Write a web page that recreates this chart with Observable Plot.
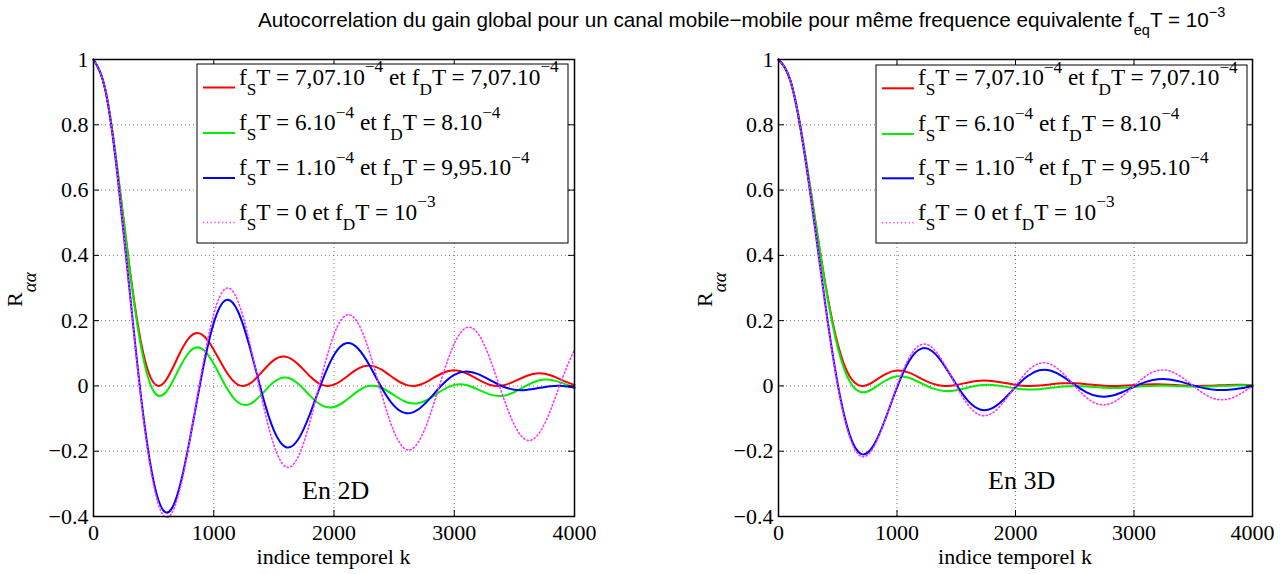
<!DOCTYPE html>
<html><head><meta charset="utf-8">
<script src="https://cdn.jsdelivr.net/npm/d3@7"></script>
<script src="https://cdn.jsdelivr.net/npm/@observablehq/plot@0.6"></script>
<style>
html,body{margin:0;padding:0;background:#fff;}
#wrap{position:relative;width:1285px;height:574px;overflow:hidden;background:#fff;}
#title{position:absolute;left:258px;top:0;height:40px;line-height:40px;font-family:"Liberation Sans",Arial,Helvetica,sans-serif;font-size:20.7px;white-space:nowrap;color:#000;}
#title .sb{font-size:14.5px;position:relative;top:8px;line-height:0;}
#title .sp{font-size:14.5px;position:relative;top:-10px;line-height:0;}
#row{position:absolute;top:40px;left:0;display:flex;}
#row svg{display:block;}
</style></head><body>
<div id="wrap">
<div id="title">Autocorrelation du gain global pour un canal mobile−mobile pour même frequence equivalente f<span class="sb">eq</span>T = 10<span class="sp">−3</span></div>
<div id="row"></div>
</div>
<script>
// time index k
const k = [0,100,200,300,400,500,600,700,800,900,1000,1100,1200,1300,1400,1500,1600,1700,1800,1900,2000,2100,2200,2300,2400,2500,2600,2700,2800,2900,3000,3100,3200,3300,3400,3500,3600,3700,3800,3900,4000];

// ---- En 2D ----
const red2D = [1,0.9049,0.6597,0.3635,0.1250,0.0097,0.0161,0.0870,0.1497,0.1578,0.1112,0.0458,0.0043,0.0070,0.0425,0.0792,0.0893,0.0671,0.0298,0.0034,0.0038,0.0267,0.0527,0.0622,0.0489,0.0230,0.0032,0.0021,0.0186,0.0389,0.0477,0.0389,0.0193,0.0031,0.0012,0.0137,0.0303,0.0386,0.0325,0.0170,0.0032];
const green2D = [1,0.9048,0.6582,0.3577,0.1105,-0.0159,-0.0202,0.0440,0.1051,0.1143,0.0679,-0.0012,-0.0502,-0.0555,-0.0251,0.0118,0.0257,0.0073,-0.0298,-0.0599,-0.0646,-0.0442,-0.0157,0.0003,-0.0063,-0.0285,-0.0491,-0.0529,-0.0373,-0.0133,0.0033,0.0030,-0.0112,-0.0267,-0.0306,-0.0190,0.0010,0.0165,0.0188,0.0085,-0.0048];
const blue2D = [1,0.9038,0.6432,0.2934,-0.0480,-0.2925,-0.3874,-0.3304,-0.1661,0.0331,0.1929,0.2628,0.2295,0.1182,-0.0217,-0.1364,-0.1877,-0.1651,-0.0860,0.0135,0.0947,0.1306,0.1145,0.0598,-0.0077,-0.0613,-0.0837,-0.0722,-0.0372,0.0036,0.0338,0.0445,0.0363,0.0175,-0.0011,-0.0117,-0.0123,-0.0066,-0.0008,-0.0001,-0.0053];
const pink2D = [1,0.9037,0.6425,0.2905,-0.0548,-0.3042,-0.4020,-0.3427,-0.1688,0.0451,0.2203,0.2985,0.2605,0.1303,-0.0383,-0.1812,-0.2479,-0.2187,-0.1100,0.0336,0.1575,0.2166,0.1920,0.0978,-0.0304,-0.1412,-0.1947,-0.1732,-0.0876,0.0280,0.1291,0.1784,0.1590,0.0805,-0.0260,-0.1196,-0.1655,-0.1478,-0.0749,0.0244,0.1120];

// ---- En 3D ----
const red3D = [1,0.9361,0.7630,0.5318,0.3035,0.1283,0.0296,0.0001,0.0127,0.0357,0.0471,0.0406,0.0234,0.0071,0.0001,0.0031,0.0107,0.0160,0.0153,0.0097,0.0034,0.0001,0.0012,0.0049,0.0079,0.0080,0.0054,0.0020,0.0001,0.0006,0.0027,0.0046,0.0049,0.0035,0.0014,0.0001,0.0003,0.0016,0.0030,0.0033,0.0025];
const green3D = [1,0.9359,0.7625,0.5295,0.2979,0.1180,0.0142,-0.0191,-0.0080,0.0159,0.0295,0.0252,0.0090,-0.0076,-0.0156,-0.0131,-0.0050,0.0018,0.0029,-0.0014,-0.0074,-0.0108,-0.0099,-0.0058,-0.0016,0,-0.0014,-0.0042,-0.0061,-0.0057,-0.0033,-0.0005,0.0009,0.0005,-0.0011,-0.0024,-0.0024,-0.0009,0.0009,0.0020,0.0018];
const blue3D = [1,0.9355,0.7571,0.5056,0.2366,0.0050,-0.1490,-0.2088,-0.1837,-0.1028,-0.0047,0.0750,0.1136,0.1057,0.0623,0.0043,-0.0459,-0.0720,-0.0688,-0.0416,-0.0038,0.0298,0.0479,0.0464,0.0285,0.0032,-0.0195,-0.0319,-0.0311,-0.0193,-0.0025,0.0125,0.0206,0.0200,0.0125,0.0018,-0.0075,-0.0123,-0.0118,-0.0073,-0.0012];
const pink3D = [1,0.9355,0.7568,0.5046,0.2339,0,-0.1559,-0.2162,-0.1892,-0.1039,0,0.0850,0.1261,0.1164,0.0668,0,-0.0585,-0.0890,-0.0841,-0.0492,0,0.0446,0.0688,0.0658,0.0390,0,-0.0360,-0.0561,-0.0541,-0.0323,0,0.0302,0.0473,0.0459,0.0275,0,-0.0260,-0.0409,-0.0398,-0.0240,0];

// legend labels (TeX-like markup)
const legendLabels = [
  "f_{S}T = 7,07.10^{−4} et f_{D}T = 7,07.10^{−4}",
  "f_{S}T = 6.10^{−4} et f_{D}T = 8.10^{−4}",
  "f_{S}T = 1.10^{−4} et f_{D}T = 9,95.10^{−4}",
  "f_{S}T = 0 et f_{D}T = 10^{−3}"
];
const xTicks = [0,1000,2000,3000,4000];
const yTicks = [-0.4,-0.2,0,0.2,0.4,0.6,0.8,1];
const xLabel = "indice temporel k";

const styles = [
  {color:"#ff0000", width:2, dash:null},
  {color:"#00ee00", width:2, dash:null},
  {color:"#0000ff", width:2, dash:null},
  {color:"#ff33ff", width:1.6, dash:"1.2,2.6"}
];
const SERIF = "'Liberation Serif','Times New Roman',Times,serif";

function parseTex(s){
  const parts=[]; const re=/([_^])\{([^}]*)\}/g; let last=0, m;
  while((m=re.exec(s))){ if(m.index>last) parts.push({t:s.slice(last,m.index),k:""}); parts.push({t:m[2],k:m[1]}); last=re.lastIndex; }
  if(last<s.length) parts.push({t:s.slice(last),k:""});
  return parts;
}
function richText(sel, str, size, subShift, supShift, ratio){
  let cur=0;
  for(const p of parseTex(str)){
    const target = p.k==="_"?subShift:p.k==="^"?-supShift:0;
    sel.append("tspan").attr("dy", target-cur).attr("font-size", p.k? size*ratio : size).text(p.t);
    cur=target;
  }
}

function panel(o){
  const {W,H,ml,mr,mt,mb,series,offsetX} = o;
  const fw=W-ml-mr, fh=H-mt-mb;
  const lines = series.map((vals,j)=>Plot.line(vals,{x:(d,i)=>k[i], y:d=>d, stroke:styles[j].color, strokeWidth:styles[j].width, strokeDasharray:styles[j].dash, curve:"natural"}));
  const svg = Plot.plot({
    width:W, height:H, marginLeft:ml, marginRight:mr, marginTop:mt, marginBottom:mb,
    style:{fontFamily:SERIF, fontSize:"22px", background:"white", color:"black", overflow:"visible"},
    x:{domain:[0,4000]}, y:{domain:[-0.4,1]},
    marks:[
      Plot.gridX(xTicks,{stroke:"#7a7a7a", strokeOpacity:1, strokeDasharray:"1,3"}),
      Plot.gridY(yTicks,{stroke:"#7a7a7a", strokeOpacity:1, strokeDasharray:"1,3"}),
      ...lines,
      Plot.tickX(xTicks,{x:d=>d, insetTop:fh-6, stroke:"black"}),
      Plot.tickX(xTicks,{x:d=>d, insetBottom:fh-6, stroke:"black"}),
      Plot.tickY(yTicks,{y:d=>d, insetRight:fw-6, stroke:"black"}),
      Plot.tickY(yTicks,{y:d=>d, insetLeft:fw-6, stroke:"black"}),
      Plot.frame({stroke:"black", strokeWidth:1.5}),
      Plot.axisX(xTicks,{tickSize:0, tickPadding:8, tickFormat:d=>String(d), label:null}),
      Plot.axisY(yTicks,{tickSize:0, tickPadding:5, tickFormat:d3.format("~g"), label:null})
    ]
  });
  const s = d3.select(svg);
  const topY = 40; // page offset of svg
  // x label
  s.append("text").attr("x", ml+fw/2).attr("y", 564-topY).attr("text-anchor","middle")
    .attr("font-family",SERIF).attr("font-size",22).text(xLabel);
  // y label R_{αα}
  const yl = s.append("text").attr("transform",`translate(${o.ylabX-offsetX},${307-topY}) rotate(-90)`)
    .attr("text-anchor","start").attr("font-family",SERIF).attr("font-size",22).style("white-space","pre");
  yl.append("tspan").text("R");
  yl.append("tspan").attr("dy",14).attr("font-size",19).attr("font-style","italic").text("αα");
  // tag
  s.append("text").attr("x",o.tagX-offsetX).attr("y",o.tagY-topY).attr("text-anchor","start")
    .attr("font-family",SERIF).attr("font-size",26).text(o.tag);
  // legend
  const L=o.legend;
  const g=s.append("g");
  g.append("rect").attr("x",L.x0-offsetX).attr("y",L.y0-topY).attr("width",L.x1-L.x0).attr("height",L.y1-L.y0)
    .attr("fill","white").attr("stroke","black").attr("stroke-width",1);
  legendLabels.forEach((lab,j)=>{
    const ly = L.rows[j]-topY;
    g.append("line").attr("x1",L.lx0-offsetX).attr("x2",L.lx1-offsetX).attr("y1",ly).attr("y2",ly)
      .attr("stroke",styles[j].color).attr("stroke-width",styles[j].width).attr("stroke-dasharray",styles[j].dash);
    const t=g.append("text").attr("x",L.tx-offsetX).attr("y",ly-3).attr("text-anchor","start")
      .attr("font-family",SERIF).attr("font-size",23.3).style("white-space","pre");
    richText(t, lab, 23.3, 10, 12.5, 0.74);
  });
  return svg;
}

const row = document.getElementById("row");
row.appendChild(panel({W:640,H:534,ml:93,mr:66,mt:19,mb:58,offsetX:0,
  series:[red2D,green2D,blue2D,pink2D], ylabX:22, tag:"En 2D", tagX:302, tagY:499,
  legend:{x0:197,x1:568,y0:64,y1:243,lx0:203,lx1:235,tx:239,rows:[87.5,133,178,222.5]}}));
row.appendChild(panel({W:645,H:534,ml:138,mr:33,mt:19,mb:58,offsetX:640,
  series:[red3D,green3D,blue3D,pink3D], ylabX:712, tag:"En 3D", tagX:988, tagY:489,
  legend:{x0:876,x1:1247,y0:65,y1:243,lx0:882,lx1:914,tx:918,rows:[88.3,134,178.3,222.7]}}));
</script>
</body></html>
